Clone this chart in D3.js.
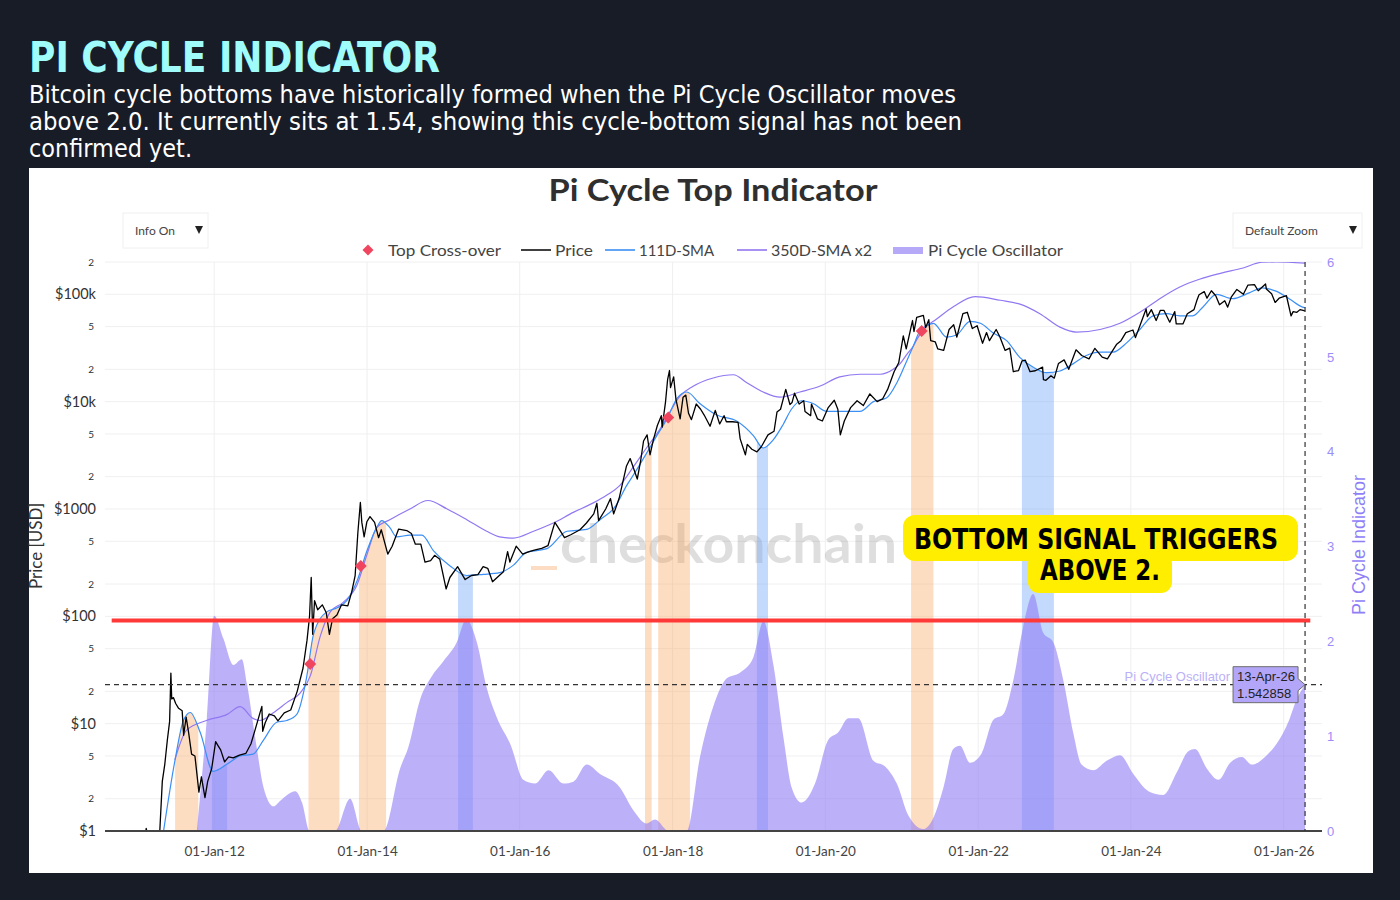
<!DOCTYPE html>
<html>
<head>
<meta charset="utf-8">
<script src="https://cdn.jsdelivr.net/npm/d3@7"></script>
<style>
  html, body { margin: 0; padding: 0; background: #181c27; }
  svg { display: block; }
</style>
</head>
<body>
<svg id="chart" width="1400" height="900"></svg>
<script>
// ---- data ----
const price = [
  ["2010-08-01",0.07],["2010-10-01",0.06],["2010-11-06",0.39],["2010-12-15",0.24],["2011-01-20",0.4],
  ["2011-02-10",1.06],["2011-02-20",0.85],["2011-03-20",0.78],["2011-04-16",1.0],["2011-04-28",2.9],
  ["2011-05-10",4.2],["2011-05-22",7.0],["2011-06-02",10.5],["2011-06-08",29.6],["2011-06-12",17],
  ["2011-06-20",17.5],["2011-07-01",15.4],["2011-07-15",13.9],["2011-08-01",13.2],["2011-08-08",7.8],
  ["2011-08-20",11.5],["2011-09-01",8.2],["2011-09-15",5.2],["2011-10-01",5.0],["2011-10-20",2.3],
  ["2011-11-01",3.2],["2011-11-18",2.05],["2011-12-01",2.9],["2011-12-20",3.8],["2012-01-08",6.8],
  ["2012-01-20",6.2],["2012-02-01",5.7],["2012-02-20",4.4],["2012-03-10",4.9],["2012-04-01",4.8],
  ["2012-05-01",5.1],["2012-06-01",5.3],["2012-06-25",6.5],["2012-07-15",8.8],["2012-08-16",14.5],
  ["2012-08-20",8.5],["2012-09-01",10.2],["2012-09-20",12.3],["2012-10-15",11.8],["2012-11-01",10.6],
  ["2012-12-01",12.6],["2013-01-01",13.4],["2013-02-01",20],["2013-03-01",33],["2013-03-20",60],
  ["2013-04-01",100],["2013-04-09",230],["2013-04-16",68],["2013-04-25",140],["2013-05-10",115],
  ["2013-06-01",128],["2013-06-20",108],["2013-07-05",68],["2013-07-20",95],["2013-08-10",103],
  ["2013-09-01",128],["2013-10-01",125],["2013-10-20",170],["2013-11-05",240],["2013-11-18",600],
  ["2013-11-30",1150],["2013-12-07",750],["2013-12-18",550],["2013-12-31",760],["2014-01-15",850],
  ["2014-02-06",750],["2014-02-25",540],["2014-03-10",640],["2014-04-10",380],["2014-05-01",450],
  ["2014-06-01",650],["2014-07-10",630],["2014-08-01",590],["2014-08-20",470],["2014-09-15",470],
  ["2014-10-05",320],["2014-11-01",330],["2014-11-20",370],["2014-12-15",340],["2015-01-14",180],
  ["2015-02-01",230],["2015-03-10",290],["2015-04-15",220],["2015-05-15",240],["2015-06-15",245],
  ["2015-07-10",290],["2015-08-01",280],["2015-08-24",210],["2015-09-15",230],["2015-10-15",260],
  ["2015-11-04",400],["2015-11-15",320],["2015-12-15",450],["2016-01-15",380],["2016-02-15",400],
  ["2016-03-15",415],["2016-04-15",430],["2016-05-15",455],["2016-06-17",750],["2016-07-01",680],
  ["2016-08-02",540],["2016-09-01",575],["2016-10-15",640],["2016-11-15",740],["2016-12-20",900],
  ["2017-01-04",1130],["2017-01-12",780],["2017-02-15",1000],["2017-03-10",1250],["2017-03-25",900],
  ["2017-04-20",1250],["2017-05-25",2500],["2017-06-12",2950],["2017-07-16",1900],["2017-08-01",2800],
  ["2017-08-15",4300],["2017-09-01",4900],["2017-09-15",3200],["2017-10-01",4400],["2017-10-20",6000],
  ["2017-11-08",7400],["2017-11-12",5800],["2017-11-28",9900],["2017-12-08",16000],["2017-12-17",19500],
  ["2017-12-22",13500],["2018-01-06",17000],["2018-01-17",10500],["2018-02-06",6900],["2018-02-20",11000],
  ["2018-03-05",11500],["2018-03-18",7800],["2018-04-01",6800],["2018-04-24",9500],["2018-05-15",8500],
  ["2018-06-01",7500],["2018-06-29",5900],["2018-07-24",8300],["2018-08-14",6200],["2018-09-04",7400],
  ["2018-09-15",6500],["2018-10-15",6500],["2018-11-10",6400],["2018-11-20",4500],["2018-12-15",3200],
  ["2018-12-24",4000],["2019-01-15",3600],["2019-02-08",3400],["2019-03-01",3800],["2019-04-02",4900],
  ["2019-05-01",5300],["2019-05-15",8000],["2019-06-01",8500],["2019-06-26",13000],["2019-07-16",9400],
  ["2019-07-26",9800],["2019-08-07",12000],["2019-08-29",9500],["2019-09-20",10200],["2019-09-26",8100],
  ["2019-10-23",7400],["2019-10-27",9500],["2019-11-25",6900],["2019-12-18",6600],["2020-01-15",8800],
  ["2020-02-13",10300],["2020-03-01",8500],["2020-03-13",4900],["2020-04-01",6600],["2020-05-01",8800],
  ["2020-06-01",10200],["2020-07-01",9200],["2020-08-01",11800],["2020-09-05",10000],["2020-10-01",10600],
  ["2020-10-25",13000],["2020-11-25",19000],["2020-12-17",23000],["2021-01-08",41000],["2021-01-22",31000],
  ["2021-02-21",57000],["2021-02-28",45000],["2021-03-13",61000],["2021-04-14",63500],["2021-04-25",49000],
  ["2021-05-10",58000],["2021-05-19",37000],["2021-06-10",36000],["2021-06-22",31000],["2021-07-20",30000],
  ["2021-08-15",47000],["2021-09-06",52000],["2021-09-21",40000],["2021-10-20",66000],["2021-11-10",68000],
  ["2021-12-04",48000],["2021-12-27",51000],["2022-01-22",35000],["2022-02-10",44000],["2022-02-24",37000],
  ["2022-03-28",47000],["2022-04-15",40000],["2022-05-10",30000],["2022-06-01",31500],["2022-06-18",19000],
  ["2022-07-13",19500],["2022-07-30",24000],["2022-08-14",24400],["2022-09-06",19000],["2022-10-01",19400],
  ["2022-11-05",21000],["2022-11-09",16000],["2022-11-21",15800],["2022-12-15",17400],["2022-12-31",16550],
  ["2023-01-20",22700],["2023-02-16",24500],["2023-03-10",20000],["2023-04-14",30400],["2023-05-11",26900],
  ["2023-06-15",25000],["2023-07-13",31400],["2023-08-17",26000],["2023-09-11",25000],["2023-10-24",34000],
  ["2023-11-15",37000],["2023-12-08",44000],["2024-01-11",46500],["2024-01-23",39500],["2024-02-15",52000],
  ["2024-03-14",73000],["2024-03-20",62000],["2024-04-08",72000],["2024-05-01",57000],["2024-05-21",71000],
  ["2024-06-07",71000],["2024-07-05",55000],["2024-07-29",69000],["2024-08-05",53000],["2024-09-06",53000],
  ["2024-09-27",66000],["2024-10-29",72000],["2024-11-12",88000],["2024-11-22",99000],["2024-12-17",106000],
  ["2024-12-30",92000],["2025-01-20",108000],["2025-02-10",97000],["2025-02-28",80000],["2025-03-25",87000],
  ["2025-04-08",76000],["2025-04-25",94000],["2025-05-22",111000],["2025-06-22",100000],["2025-07-14",122000],
  ["2025-08-14",123000],["2025-09-01",108000],["2025-10-06",125000],["2025-10-10",112000],["2025-11-04",101000],
  ["2025-11-21",84000],["2025-12-10",92000],["2026-01-14",97000],["2026-02-05",63000],["2026-02-15",69000],
  ["2026-03-05",68000],["2026-03-20",72000],["2026-04-13",70000]
]

const sma111 = [
  ["2011-05-04",1],["2011-06-28",4.6],["2011-08-07",10.7],["2011-09-09",12.7],["2011-10-26",8.3],
  ["2011-12-27",3.6],["2012-03-03",4.2],["2012-05-04",5.0],["2012-07-05",5.2],["2012-08-23",7.0],
  ["2012-10-26",10.3],["2012-12-13",10.7],["2013-01-30",12.2],["2013-03-18",27],["2013-04-20",68],
  ["2013-06-22",110],["2013-08-11",120],["2013-09-27",141],["2013-11-14",213],["2014-01-01",410],
  ["2014-02-16",670],["2014-03-12",780],["2014-04-20",670],["2014-05-22",550],["2014-07-25",570],
  ["2014-09-20",570],["2014-11-14",410],["2015-02-02",295],["2015-04-23",240],["2015-07-11",246],
  ["2015-09-27",255],["2015-12-02",300],["2016-02-02",394],["2016-05-10",427],["2016-08-14",620],
  ["2016-11-17",645],["2017-01-19",795],["2017-04-01",1050],["2017-05-26",1650],["2017-07-12",2300],
  ["2017-08-29",3300],["2017-10-17",4800],["2017-12-05",6900],["2018-01-23",10800],["2018-03-10",12300],
  ["2018-05-11",9600],["2018-07-31",7500],["2018-11-03",6600],["2019-01-23",4800],["2019-03-10",3700],
  ["2019-04-27",4400],["2019-06-13",6100],["2019-07-23",8500],["2019-09-09",10200],["2019-11-04",9600],
  ["2020-01-08",8100],["2020-03-29",8100],["2020-06-15",8100],["2020-08-18",10000],["2020-10-19",10800],
  ["2020-12-09",15100],["2021-01-27",24600],["2021-02-25",33000],["2021-03-29",46000],["2021-05-01",51000],
  ["2021-06-01",53700],["2021-08-03",40000],["2021-09-20",41800],["2021-11-23",56000],["2022-01-12",53700],
  ["2022-03-14",43600],["2022-05-17",37000],["2022-07-20",25700],["2022-09-20",21000],["2022-11-25",18600],
  ["2023-01-27",19300],["2023-04-01",22600],["2023-06-02",26900],["2023-08-07",28900],["2023-10-08",28900],
  ["2023-12-13",35500],["2024-02-13",47000],["2024-04-16",63000],["2024-06-20",66000],["2024-08-22",63000],
  ["2024-10-23",63000],["2024-12-13",77000],["2025-02-13",100000],["2025-05-01",91000],["2025-07-20",103000],
  ["2025-09-20",115000],["2025-11-25",107000],["2026-01-27",91000],["2026-04-01",76000],["2026-04-13",75000]
]

const sma350x2 = [
  ["2011-06-27",4.6],["2011-08-22",8.7],["2011-11-25",10.7],["2012-03-03",12.2],["2012-05-04",14.4],
  ["2012-07-05",11.2],["2012-08-07",10.7],["2012-10-12",12.7],["2012-12-13",15.7],["2013-02-16",19.4],
  ["2013-04-05",28],["2013-05-22",65],["2013-07-09",110],["2013-09-09",135],["2013-11-14",196],
  ["2014-01-01",378],["2014-02-16",670],["2014-04-20",795],["2014-07-25",1000],["2014-10-19",1200],
  ["2015-01-19",1000],["2015-04-23",795],["2015-07-27",620],["2015-09-27",550],["2015-12-02",535],
  ["2016-03-07",620],["2016-06-10",740],["2016-09-13",930],["2016-12-18",1140],["2017-02-21",1350],
  ["2017-04-23",1650],["2017-06-28",2480],["2017-08-29",3700],["2017-11-03",5600],["2017-12-20",8100],
  ["2018-02-06",11300],["2018-04-09",13900],["2018-07-14",16600],["2018-10-19",17800],["2018-12-20",15100],
  ["2019-03-10",12300],["2019-05-30",11000],["2019-09-02",12300],["2019-12-05",13900],["2020-03-10",17000],
  ["2020-06-15",18000],["2020-09-20",18000],["2020-11-21",20000],["2020-12-24",22600],["2021-01-27",27900],
  ["2021-02-25",33000],["2021-03-14",38000],["2021-05-01",51000],["2021-06-01",56000],["2021-09-06",77000],
  ["2021-12-17",95000],["2022-04-16",88000],["2022-07-20",81000],["2022-10-23",66000],["2023-01-27",49500],
  ["2023-04-16",44500],["2023-08-07",47000],["2023-11-10",53700],["2024-02-13",68000],["2024-05-18",91000],
  ["2024-08-22",117000],["2024-11-24",138000],["2025-02-27",156000],["2025-06-21",176000],["2025-09-20",199000],
  ["2025-11-25",200000],["2026-04-13",195000]
]

const piOsc = [
  ["2011-10-10",0],["2011-11-27",1.19],["2012-01-01",2.27],["2012-02-14",2.03],["2012-04-02",1.75],
  ["2012-05-12",1.81],["2012-06-06",1.55],["2012-07-23",0.87],["2012-08-24",0.46],["2012-10-11",0.26],
  ["2012-11-12",0.32],["2013-01-23",0.42],["2013-02-24",0.30],["2013-04-01",0],["2013-08-01",0],
  ["2013-10-12",0.34],["2013-12-07",0],["2014-03-20",0],["2014-06-08",0.66],["2014-07-17",0.88],
  ["2014-09-12",1.39],["2014-11-06",1.63],["2015-01-01",1.79],["2015-03-06",1.99],["2015-04-20",2.23],
  ["2015-06-10",1.99],["2015-07-27",1.51],["2015-09-13",1.2],["2015-11-20",0.9],["2016-01-18",0.54],
  ["2016-03-15",0.50],["2016-05-18",0.64],["2016-07-28",0.50],["2016-09-14",0.52],["2016-11-16",0.70],
  ["2017-01-19",0.60],["2017-04-24",0.46],["2017-06-27",0.22],["2017-08-30",0.08],["2017-10-09",0.12],
  ["2017-12-12",0],["2018-03-09",0],["2018-05-12",0.78],["2018-07-14",1.31],["2018-09-17",1.61],
  ["2018-11-19",1.67],["2019-01-22",1.83],["2019-03-11",2.21],["2019-04-28",1.75],["2019-06-15",0.985],
  ["2019-07-24",0.46],["2019-09-10",0.30],["2019-11-13",0.50],["2020-01-15",0.96],["2020-03-03",1.04],
  ["2020-04-20",1.19],["2020-06-07",1.19],["2020-08-18",0.74],["2020-10-13",0.68],["2020-12-08",0.50],
  ["2021-02-02",0.16],["2021-04-14",0.02],["2021-06-01",0.14],["2021-07-19",0.46],["2021-09-04",0.865],
  ["2021-10-06",0.90],["2021-11-23",0.72],["2022-01-18",0.82],["2022-03-14",1.17],["2022-05-01",1.23],
  ["2022-06-18",1.59],["2022-08-04",2.15],["2022-09-21",2.50],["2022-11-08",2.09],["2022-12-26",1.99],
  ["2023-02-12",1.59],["2023-04-01",1.03],["2023-05-10",0.70],["2023-07-05",0.64],["2023-09-07",0.74],
  ["2023-11-10",0.80],["2024-01-13",0.60],["2024-03-25",0.42],["2024-06-04",0.38],["2024-08-08",0.62],
  ["2024-10-02",0.84],["2024-11-03",0.865],["2024-12-29",0.66],["2025-02-23",0.54],["2025-04-20",0.72],
  ["2025-06-15",0.78],["2025-08-01",0.70],["2025-10-12",0.80],["2025-11-28",0.92],["2026-01-23",1.15],
  ["2026-03-04",1.39],["2026-04-13",1.542858]
]

const topBands = [
  ["2011-06-28","2011-10-17"],["2013-03-27","2013-08-22"],["2013-11-23","2014-04-02"],
  ["2017-08-22","2017-09-23"],["2017-10-24","2018-03-25"],["2021-02-14","2021-06-01"]
]
const bottomBands = [
  ["2011-12-21","2012-03-03"],["2015-03-12","2015-05-22"],["2019-02-08","2019-04-02"],["2022-07-29","2022-12-29"]
]
const crossovers = [
  ["2013-04-04",36],["2013-12-02",295],["2017-12-11",7100],["2021-04-06",45500]
]

const signalLevel = 2.22
const current = { date: "2026-04-13", value: 1.542858 }
const xTicks = ["2012-01-01","2014-01-01","2016-01-01","2018-01-01","2020-01-01","2022-01-01","2024-01-01","2026-01-01"]
const priceTicks = [1,2,5,10,20,50,100,200,500,1000,2000,5000,10000,20000,50000,100000,200000]
const majorLabels = { 1: "$1", 10: "$10", 100: "$100", 1000: "$1000", 10000: "$10k", 100000: "$100k" }
const oscTicks = [0,1,2,3,4,5,6]

const legendItems = [
  { label: "Top Cross-over", kind: "diamond", x: 368, w: 113 },
  { label: "Price", kind: "line", color: "#111111", x: 521, w: 38 },
  { label: "111D-SMA", kind: "line", color: "#3b8ff5", x: 605, w: 75 },
  { label: "350D-SMA x2", kind: "line", color: "#9177f2", x: 737, w: 101 },
  { label: "Pi Cycle Oscillator", kind: "rect", color: "#b5a9f8", x: 893, w: 135 }
]

// ---- layout ----
const PLOT = { LEFT: 105, RIGHT: 1322, TOP: 262, BOTTOM: 831 }
const FONT = "Lato, 'Noto Sans', sans-serif"
const ARIAL = "'Liberation Sans', Arial, sans-serif"

const parse = d3.timeParse("%Y-%m-%d")
const x = d3.scaleTime()
    .domain([parse("2010-07-28"), parse("2026-07-03")])
    .range([PLOT.LEFT, PLOT.RIGHT])
const y = d3.scaleLog()
    .domain([1, 200000])
    .range([PLOT.BOTTOM, PLOT.TOP])
const yOsc = d3.scaleLinear()
    .domain([0, 6])
    .range([PLOT.BOTTOM, PLOT.TOP])

const svg = d3.select("#chart")
const defs = svg.append("defs")

// Header
svg.append("text")
    .attr("x", 29).attr("y", 72)
    .attr("font-family", "'DejaVu Sans Condensed', 'DejaVu Sans', sans-serif")
    .attr("font-weight", "bold")
    .attr("font-size", 42)
    .attr("fill", "#9ffcfb")
    .attr("textLength", 411).attr("lengthAdjust", "spacingAndGlyphs")
    .text("PI CYCLE INDICATOR")

const subtitle = [
  ["Bitcoin cycle bottoms have historically formed when the Pi Cycle Oscillator moves", 927],
  ["above 2.0. It currently sits at 1.54, showing this cycle-bottom signal has not been", 933],
  ["confirmed yet.", 163]
]
svg.selectAll(".sub")
    .data(subtitle)
    .enter().append("text")
    .attr("class", "sub")
    .attr("x", 29)
    .attr("y", (d, i) => 103 + i * 27)
    .attr("font-family", "'DejaVu Sans Condensed', 'DejaVu Sans', sans-serif")
    .attr("font-size", 25)
    .attr("fill", "#ffffff")
    .attr("textLength", d => d[1]).attr("lengthAdjust", "spacingAndGlyphs")
    .text(d => d[0])

// White panel
svg.append("rect")
    .attr("x", 29).attr("y", 168)
    .attr("width", 1344).attr("height", 705)
    .attr("fill", "#ffffff")

svg.append("text")
    .attr("x", 713).attr("y", 201)
    .attr("text-anchor", "middle")
    .attr("font-family", FONT)
    .attr("font-weight", "bold")
    .attr("font-size", 31)
    .attr("fill", "#2f2f2f")
    .attr("textLength", 329).attr("lengthAdjust", "spacingAndGlyphs")
    .text("Pi Cycle Top Indicator")

// Dropdowns
function dropdown(x0, w, label) {
  const g = svg.append("g")
  g.append("rect")
      .attr("x", x0).attr("y", 213).attr("width", w).attr("height", 35)
      .attr("fill", "#ffffff").attr("stroke", "#f0f0f0")
  g.append("text")
      .attr("x", x0 + 12).attr("y", 235)
      .attr("font-family", FONT).attr("font-size", 12).attr("fill", "#444")
      .text(label)
  g.append("path")
      .attr("d", `M${x0 + w - 13},${226} l8,0 l-4,8 z`)
      .attr("fill", "#222")
}
dropdown(123, 85, "Info On")
dropdown(1233, 129, "Default Zoom")

// Legend
const legend = svg.append("g").attr("font-family", FONT).attr("font-size", 16).attr("fill", "#444")
legendItems.forEach(it => {
  let tx
  if (it.kind === "diamond") {
    legend.append("path")
        .attr("d", d3.symbol(d3.symbolSquare, 60)())
        .attr("transform", `translate(${it.x},250) rotate(45)`)
        .attr("fill", "#f0455f")
    tx = it.x + 20
  } else if (it.kind === "line") {
    legend.append("line")
        .attr("x1", it.x).attr("x2", it.x + 30).attr("y1", 250).attr("y2", 250)
        .attr("stroke", it.color).attr("stroke-width", 1.6)
    tx = it.x + 34
  } else {
    legend.append("rect")
        .attr("x", it.x).attr("y", 247).attr("width", 30).attr("height", 7)
        .attr("fill", it.color)
    tx = it.x + 35
  }
  legend.append("text").attr("x", tx).attr("y", 256)
      .attr("textLength", it.w).attr("lengthAdjust", "spacingAndGlyphs")
      .text(it.label)
})

// Clip for plot area
defs.append("clipPath").attr("id", "plotClip")
    .append("rect")
    .attr("x", PLOT.LEFT).attr("y", PLOT.TOP)
    .attr("width", PLOT.RIGHT - PLOT.LEFT).attr("height", PLOT.BOTTOM - PLOT.TOP)

// Grid
const grid = svg.append("g")
grid.selectAll(".hgrid")
    .data(priceTicks)
    .enter().append("line")
    .attr("x1", PLOT.LEFT).attr("x2", PLOT.RIGHT)
    .attr("y1", d => y(d)).attr("y2", d => y(d))
    .attr("stroke", "#f0f0f0").attr("stroke-width", 1)
grid.selectAll(".vgrid")
    .data(xTicks)
    .enter().append("line")
    .attr("x1", d => x(parse(d))).attr("x2", d => x(parse(d)))
    .attr("y1", PLOT.TOP).attr("y2", PLOT.BOTTOM)
    .attr("stroke", "#efefef").attr("stroke-width", 1)

// Watermark
svg.append("rect")
    .attr("x", 531).attr("y", 566).attr("width", 26).attr("height", 4)
    .attr("fill", "#fcdcc2")
svg.append("text")
    .attr("x", 560).attr("y", 563)
    .attr("font-family", FONT).attr("font-weight", "bold")
    .attr("font-size", 54)
    .attr("fill", "#000").attr("fill-opacity", 0.13)
    .attr("textLength", 337).attr("lengthAdjust", "spacingAndGlyphs")
    .text("checkonchain")

// Signal bands: area under the 111D-SMA, clipped to each band's dates
const parsed = arr => arr.map(d => ({ date: parse(d[0]), v: d[1] }))
const priceData = parsed(price)
const sma111Data = parsed(sma111)
const sma350Data = parsed(sma350x2)
const oscData = parsed(piOsc)

const bandArea = d3.area()
    .x(d => x(d.date))
    .y0(PLOT.BOTTOM)
    .y1(d => y(d.v))
    .curve(d3.curveMonotoneX)

function bandLayer(id, bands, color, opacity) {
  const cp = defs.append("clipPath").attr("id", id)
  cp.selectAll("rect")
      .data(bands)
      .enter().append("rect")
      .attr("x", d => x(parse(d[0])))
      .attr("width", d => x(parse(d[1])) - x(parse(d[0])))
      .attr("y", PLOT.TOP).attr("height", PLOT.BOTTOM - PLOT.TOP)
  svg.append("path")
      .datum(sma111Data)
      .attr("d", bandArea)
      .attr("fill", color).attr("fill-opacity", opacity)
      .attr("clip-path", `url(#${id})`)
}
bandLayer("topClip", topBands, "#f9a55e", 0.38)
bandLayer("bottomClip", bottomBands, "#6fa6f7", 0.42)

// Oscillator area
const oscArea = d3.area()
    .x(d => x(d.date))
    .y0(yOsc(0))
    .y1(d => yOsc(d.v))
    .curve(d3.curveMonotoneX)
svg.append("path")
    .datum(oscData)
    .attr("d", oscArea)
    .attr("fill", "#8f7cf5").attr("fill-opacity", 0.6)
    .attr("clip-path", "url(#plotClip)")

// Lines
const smoothLine = d3.line().x(d => x(d.date)).y(d => y(d.v)).curve(d3.curveMonotoneX)
const priceLine = d3.line().x(d => x(d.date)).y(d => y(d.v))

const lines = svg.append("g").attr("clip-path", "url(#plotClip)").attr("fill", "none")
lines.append("path").datum(sma350Data).attr("d", smoothLine)
    .attr("stroke", "#9177f2").attr("stroke-width", 1.2)
lines.append("path").datum(sma111Data).attr("d", smoothLine)
    .attr("stroke", "#3b8ff5").attr("stroke-width", 1.2)
lines.append("path").datum(priceData).attr("d", priceLine)
    .attr("stroke", "#000").attr("stroke-width", 1.3).attr("stroke-linejoin", "round")

// Bottom axis line
svg.append("line")
    .attr("x1", PLOT.LEFT).attr("x2", PLOT.RIGHT)
    .attr("y1", PLOT.BOTTOM).attr("y2", PLOT.BOTTOM)
    .attr("stroke", "#444").attr("stroke-width", 2)

// Red signal line
svg.append("line")
    .attr("x1", x(parse("2010-08-29"))).attr("x2", x(parse("2026-05-08")))
    .attr("y1", yOsc(signalLevel)).attr("y2", yOsc(signalLevel))
    .attr("stroke", "#ff3838").attr("stroke-width", 4)

// Spike lines at current value
svg.append("line")
    .attr("x1", PLOT.LEFT).attr("x2", PLOT.RIGHT)
    .attr("y1", yOsc(current.value)).attr("y2", yOsc(current.value))
    .attr("stroke", "#333").attr("stroke-width", 1.2).attr("stroke-dasharray", "5,4")
svg.append("line")
    .attr("x1", x(parse(current.date))).attr("x2", x(parse(current.date)))
    .attr("y1", PLOT.TOP).attr("y2", PLOT.BOTTOM)
    .attr("stroke", "#333").attr("stroke-width", 1.2).attr("stroke-dasharray", "5,4")

// Top cross-over diamonds
svg.selectAll(".cross")
    .data(crossovers)
    .enter().append("path")
    .attr("d", d3.symbol(d3.symbolSquare, 72)())
    .attr("transform", d => `translate(${x(parse(d[0]))},${y(d[1])}) rotate(45)`)
    .attr("fill", "#f0455f")

// Axes
const leftAxis = svg.append("g")
    .attr("transform", `translate(${PLOT.LEFT - 9},0)`)
    .call(d3.axisLeft(y).tickValues(priceTicks).tickSize(0).tickPadding(0)
        .tickFormat(d => majorLabels[d] || String(d).charAt(0)))
leftAxis.select(".domain").remove()
leftAxis.selectAll("text")
    .attr("font-family", FONT)
    .attr("fill", "#333")
    .attr("font-size", d => majorLabels[d] ? 14.5 : 10)
    .attr("dx", d => majorLabels[d] ? 0 : -2)

const rightAxis = svg.append("g")
    .attr("transform", `translate(${PLOT.RIGHT + 5},0)`)
    .call(d3.axisRight(yOsc).tickValues(oscTicks).tickSize(0).tickPadding(0).tickFormat(d3.format("d")))
rightAxis.select(".domain").remove()
rightAxis.selectAll("text")
    .attr("font-family", ARIAL).attr("font-size", 13).attr("fill", "#9b8df8")

const bottomAxis = svg.append("g")
    .attr("transform", `translate(0,${PLOT.BOTTOM})`)
    .call(d3.axisBottom(x).tickValues(xTicks.map(parse)).tickSize(0).tickPadding(15)
        .tickFormat(d3.timeFormat("%d-%b-%y")))
bottomAxis.select(".domain").remove()
bottomAxis.selectAll("text")
    .attr("font-family", FONT).attr("font-size", 13.5).attr("fill", "#444")

// Axis titles
svg.append("text")
    .attr("transform", "translate(42,546) rotate(-90)")
    .attr("text-anchor", "middle")
    .attr("font-family", FONT).attr("font-size", 17).attr("fill", "#333")
    .text("Price [USD]")
svg.append("text")
    .attr("transform", "translate(1365,545) rotate(-90)")
    .attr("text-anchor", "middle")
    .attr("font-family", ARIAL).attr("font-size", 18).attr("fill", "#8f7ff7")
    .text("Pi Cycle Indicator")

// Annotation
const note = svg.append("g")
note.append("rect")
    .attr("x", 903).attr("y", 515).attr("width", 395).attr("height", 46).attr("rx", 12)
    .attr("fill", "#ffee00")
note.append("rect")
    .attr("x", 1028).attr("y", 553).attr("width", 144).attr("height", 40).attr("rx", 11)
    .attr("fill", "#ffee00")
note.append("text")
    .attr("x", 914).attr("y", 549)
    .attr("font-family", "'DejaVu Sans', sans-serif").attr("font-weight", "bold")
    .attr("font-size", 29).attr("fill", "#000")
    .attr("textLength", 364).attr("lengthAdjust", "spacingAndGlyphs")
    .text("BOTTOM SIGNAL TRIGGERS")
note.append("text")
    .attr("x", 1040).attr("y", 580)
    .attr("font-family", "'DejaVu Sans', sans-serif").attr("font-weight", "bold")
    .attr("font-size", 29).attr("fill", "#000")
    .attr("textLength", 120).attr("lengthAdjust", "spacingAndGlyphs")
    .text("ABOVE 2.")

// Hover label at current value
const tipX = x(parse(current.date))
const tipY = yOsc(current.value)
const tip = svg.append("g").attr("font-family", ARIAL).attr("font-size", 13)
tip.append("path")
    .attr("d", `M${tipX - 72},${tipY - 18} H${tipX - 7} V${tipY - 6} L${tipX},${tipY} L${tipX - 7},${tipY + 6} V${tipY + 18} H${tipX - 72} Z`)
    .attr("fill", "#b3a6f8").attr("stroke", "#6d6d6d").attr("stroke-width", 1)
tip.append("text").attr("x", tipX - 68).attr("y", tipY - 4).attr("fill", "#222").text("13-Apr-26")
tip.append("text").attr("x", tipX - 68).attr("y", tipY + 13).attr("fill", "#222").text(d3.format(".6f")(current.value))
tip.append("text").attr("x", tipX - 75).attr("y", tipY - 4)
    .attr("text-anchor", "end").attr("fill", "#bbb1f8").text("Pi Cycle Oscillator")
</script>
</body>
</html>
